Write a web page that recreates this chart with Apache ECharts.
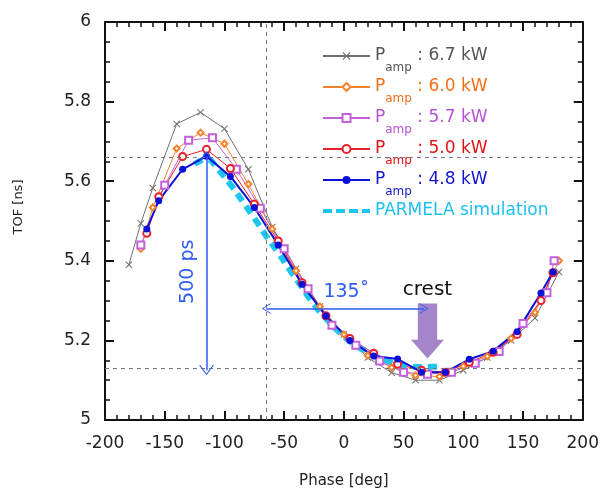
<!DOCTYPE html>
<html>
<head>
<meta charset="utf-8">
<script src="https://cdn.jsdelivr.net/npm/echarts@6/dist/echarts.min.js"></script>
<style>html,body{margin:0;padding:0;background:#fff}#c{width:602px;height:494px}</style>
</head>
<body>
<div id="c"></div>
<script>
// ---- data ----
const phase67 = [-180,-170,-160,-140,-120,-100,-80,-60,-40,-20,0,20,40,60,80,100,120,140,160,180];
const tof67   = [5.39,5.494,5.583,5.744,5.773,5.732,5.63,5.485,5.38,5.285,5.215,5.157,5.119,5.10,5.10,5.125,5.157,5.20,5.256,5.372];

const phase60 = [-170,-160,-140,-120,-100,-80,-60,-40,-20,0,20,40,60,80,100,120,140,160,180];
const tof60   = [5.43,5.534,5.682,5.722,5.694,5.593,5.48,5.375,5.285,5.215,5.162,5.132,5.112,5.109,5.135,5.16,5.205,5.27,5.40];

const phase57 = [-170,-150,-130,-110,-90,-70,-50,-30,-10,10,30,50,70,90,110,130,150,170,176];
const tof57   = [5.44,5.59,5.703,5.709,5.63,5.532,5.43,5.33,5.238,5.188,5.148,5.12,5.115,5.12,5.1425,5.172,5.2425,5.32,5.40];

const phase50 = [-165,-155,-135,-115,-95,-75,-55,-35,-15,5,25,45,65,85,105,125,145,165,175];
const tof50   = [5.469,5.561,5.662,5.68,5.632,5.5425,5.45,5.345,5.262,5.205,5.168,5.14,5.125,5.12,5.145,5.17,5.215,5.30,5.37];

const phase48 = [-165,-155,-135,-115,-95,-75,-55,-35,-15,5,25,45,65,85,105,125,145,165,175];
const tof48   = [5.48,5.551,5.63,5.663,5.612,5.534,5.44,5.341,5.261,5.20,5.161,5.153,5.12,5.12,5.1525,5.173,5.222,5.319,5.372];

const phaseSim = [-125,-115,-105,-95,-85,-75,-65,-55,-45,-35,-25,-15,-5,5,15,25,35,45,55,65,75,82];
const tofSim   = [5.643,5.655,5.628,5.592,5.55,5.507,5.462,5.42,5.376,5.333,5.29,5.255,5.224,5.198,5.178,5.162,5.15,5.14,5.135,5.133,5.134,5.136];

const seriesNames = ['6.7 kW','6.0 kW','5.7 kW','5.0 kW','4.8 kW','PARMELA simulation'];
const xTicks = {min:-200, max:200, interval:50};
const yTicks = {min:5, max:6, interval:0.2};

// annotations
const refTop = 5.663, refBottom = 5.125, refPhase = -65, crestPhase = 70;
const arrowPhase = -115, arrowY = 5.28, arrowEnd = 67;

// ---- styles ----
const lineColors = ['#6e6e6e','#f5832a','#c460dc','#e8202a','#0a10d8','#1ec5f0'];
const textColors = ['#555555','#f07018','#b653d8','#e01414','#1414cc','#1ec0f0'];
const FONT = 'DejaVu Sans';
const arrowBlue = '#2d5cf6';

function pairs(xs, ys){ return xs.map((x,i)=>[x, ys[i]]); }

const rich = {};
textColors.forEach((c,i)=>{
  rich['m'+i] = {fontSize:17, color:c, fontFamily:FONT, verticalAlign:'top', height:18, lineHeight:38, padding:[10,0,10,0]};
  rich['s'+i] = {fontSize:12, color:c, fontFamily:FONT, verticalAlign:'top', height:14, lineHeight:38, padding:[24,0,0,0]};
});

const crossPath = 'path://M0,1L1,0L5,4L9,0L10,1L6,5L10,9L9,10L5,6L1,10L0,9L4,5Z';
const chevron = 'path://M0,10L7.5,0L15,10L13.6,10L7.5,1.8L1.4,10Z';
const crestPath = 'path://M7,0L27,0L27,37L34,37L17,56L0,37L7,37Z';
const dashIcon = 'path://M0,-3L0.01,-3Z M0,0H9V4H0Z M13,0H22V4H13Z M26,0H35V4H26Z M39,0H47V4H39Z M0,7L0.01,7Z';

function axisCommon(extra){
  return Object.assign({
    type:'value',
    axisLine:{show:true, onZero:false, lineStyle:{color:'#111', width:2}},
    axisTick:{show:true, inside:true, length:9, lineStyle:{color:'#111', width:2}},
    minorTick:{show:true, length:5, lineStyle:{color:'#111', width:1.5}},
    splitLine:{show:false},
    minorSplitLine:{show:false}
  }, extra);
}

const dashedRef = {type:[4,4], color:'#7a7a7a', width:1};

const option = {
  animation:false,
  textStyle:{fontFamily:FONT},
  grid:{left:105, right:18, top:22, bottom:72},
  legend:{
    orient:'vertical', left:322, top:37, padding:0, itemGap:-7,
    itemWidth:47, itemHeight:10, selectedMode:false,
    data: seriesNames.map((n,i)=> i===5 ? {name:n, icon:dashIcon} : {name:n}),
    formatter: function(name){
      const i = seriesNames.indexOf(name);
      if (i === 5) return '{m5|' + name + '}';
      return '{m'+i+'|P}{s'+i+'|amp}{m'+i+'| : ' + name + '}';
    },
    textStyle:{rich:rich}
  },
  xAxis:[
    axisCommon({min:xTicks.min, max:xTicks.max, interval:xTicks.interval, position:'bottom',
      minorTick:{show:true, splitNumber:5, length:5, lineStyle:{color:'#111', width:1.5}},
      axisLabel:{fontSize:17, color:'#222', margin:15, fontFamily:FONT},
      name:'Phase [deg]', nameLocation:'middle', nameGap:54,
      nameTextStyle:{fontSize:15, color:'#222', fontFamily:FONT}}),
    axisCommon({min:xTicks.min, max:xTicks.max, interval:xTicks.interval, position:'top',
      minorTick:{show:true, splitNumber:5, length:5, lineStyle:{color:'#111', width:1.5}},
      axisLabel:{show:false}})
  ],
  yAxis:[
    axisCommon({min:yTicks.min, max:yTicks.max, interval:yTicks.interval, position:'left',
      minorTick:{show:true, splitNumber:4, length:5, lineStyle:{color:'#111', width:1.5}},
      axisLabel:{fontSize:17, color:'#222', margin:14, fontFamily:FONT},
      name:'TOF [ns]', nameLocation:'middle', nameGap:80,
      nameTextStyle:{fontSize:13, color:'#222', fontFamily:FONT, padding:[0,0,0,28]}}),
    axisCommon({min:yTicks.min, max:yTicks.max, interval:yTicks.interval, position:'right',
      minorTick:{show:true, splitNumber:4, length:5, lineStyle:{color:'#111', width:1.5}},
      axisLabel:{show:false}})
  ],
  series:[
    {
      name:seriesNames[0], type:'line', data:pairs(phase67, tof67),
      symbol:crossPath, symbolSize:7, color:lineColors[0],
      lineStyle:{width:1, color:lineColors[0]}, itemStyle:{color:lineColors[0], borderWidth:0},
      markLine:{
        silent:true, symbol:['none','none'], label:{show:false}, animation:false,
        data:[
          {yAxis:refTop, lineStyle:dashedRef},
          {yAxis:refBottom, lineStyle:dashedRef},
          {xAxis:refPhase, lineStyle:dashedRef}
        ]
      },
      markPoint:{
        silent:true, animation:false,
        data:[
          {coord:[crestPhase, 5.2237], symbol:crestPath, symbolSize:[33,55], itemStyle:{color:'#a585c9'}, label:{show:false}},
          {coord:[crestPhase, 5.326], symbol:'circle', symbolSize:0, itemStyle:{color:'transparent'},
           label:{show:true, position:'inside', formatter:'crest', fontSize:20, color:'#111', fontFamily:FONT}},
          {coord:[2, 5.322], symbol:'circle', symbolSize:0, itemStyle:{color:'transparent'},
           label:{show:true, position:'inside', formatter:'135˚', fontSize:19, color:arrowBlue, fontFamily:FONT}},
          {coord:[-130.7, 5.3725], symbol:'circle', symbolSize:0, itemStyle:{color:'transparent'},
           label:{show:true, position:'inside', formatter:'500 ps', rotate:90, fontSize:19, color:arrowBlue, fontFamily:FONT}}
        ]
      }
    },
    {
      name:seriesNames[1], type:'line', data:pairs(phase60, tof60),
      symbol:'emptyDiamond', symbolSize:6, color:lineColors[1],
      lineStyle:{width:1, color:lineColors[1]}, itemStyle:{color:lineColors[1], borderWidth:1}
    },
    {
      name:seriesNames[2], type:'line', data:pairs(phase57, tof57),
      symbol:'emptyRect', symbolSize:7, color:lineColors[2],
      lineStyle:{width:1, color:lineColors[2]}, itemStyle:{color:lineColors[2], borderWidth:1}
    },
    {
      name:seriesNames[3], type:'line', data:pairs(phase50, tof50),
      symbol:'emptyCircle', symbolSize:7, color:lineColors[3],
      lineStyle:{width:1, color:lineColors[3]}, itemStyle:{color:lineColors[3], borderWidth:1}
    },
    {
      name:seriesNames[5], type:'line', data:pairs(phaseSim, tofSim),
      symbol:'none', smooth:true, color:lineColors[5],
      lineStyle:{width:6, color:lineColors[5], type:[9,6]}, itemStyle:{color:lineColors[5]}
    },
    {
      name:seriesNames[4], type:'line', data:pairs(phase48, tof48),
      symbol:'circle', symbolSize:7, color:lineColors[4],
      lineStyle:{width:2, color:lineColors[4]}, itemStyle:{color:lineColors[4], borderWidth:0},
      markLine:{
        silent:true, symbol:['none','none'], label:{show:false}, animation:false, z:10,
        data:[
          [{coord:[arrowPhase, refTop], symbol:chevron, symbolSize:[15,10], lineStyle:{color:arrowBlue, width:1.5, type:'solid'}},
           {coord:[arrowPhase, refBottom], symbol:chevron, symbolSize:[15,10]}],
          [{coord:[refPhase, arrowY], symbol:chevron, symbolSize:[11,9], lineStyle:{color:arrowBlue, width:1.5, type:'solid'}},
           {coord:[arrowEnd, arrowY], symbol:chevron, symbolSize:[11,9]}]
        ]
      }
    }
  ]
};

const chart = echarts.init(document.getElementById('c'), null, {renderer:'canvas'});
chart.setOption(option);
</script>
</body>
</html>
